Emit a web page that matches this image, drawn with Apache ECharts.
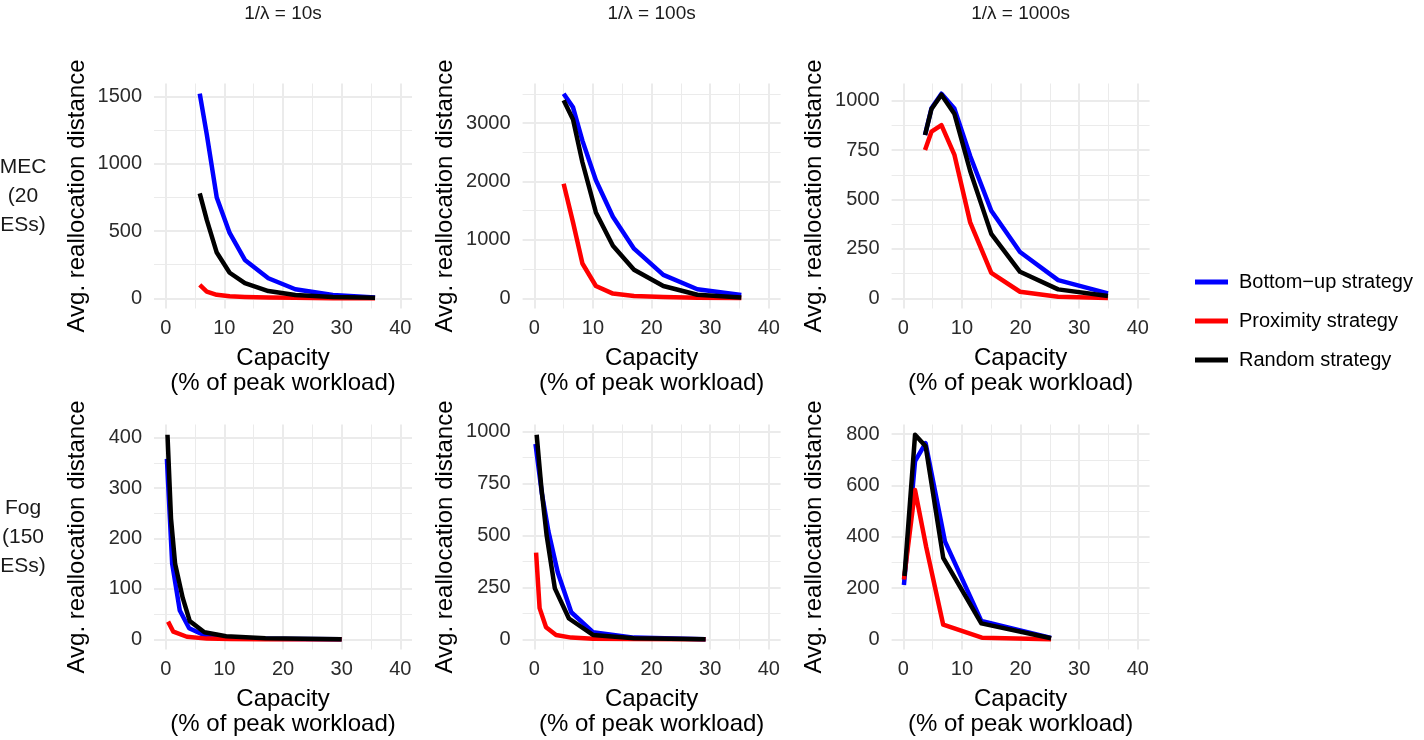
<!DOCTYPE html>
<html>
<head>
<meta charset="utf-8">
<title>Avg. reallocation distance</title>
<script src="https://cdn.jsdelivr.net/npm/echarts@6/dist/echarts.min.js"></script>
<style>
    html, body { margin: 0; padding: 0; background: #fff; }
    #main { width: 1424px; height: 740px; }
</style>
</head>
<body>
<div id="main"></div>
<script>
// strategies and colours
var strategies = ['Bottom\u2212up strategy', 'Proximity strategy', 'Random strategy'];
var colors = ['#0000FF', '#FF0000', '#000000'];

var colTitles = ['1/\u03bb = 10s', '1/\u03bb = 100s', '1/\u03bb = 1000s'];
var rowTitles = ['MEC\n(20\nESs)', 'Fog\n(150\nESs)'];

// x ticks (same for all panels)
var xTicks = [0, 10, 20, 30, 40];
var xMinorTicks = [5, 15, 25, 35];

// MEC (20 ESs), 1/λ = 10s
var mec10Cap = [5.8, 7.0, 8.7, 10.9, 13.5, 17.5, 22.1, 28.5, 35.7];
var mec10Bottom = [1522, 1220, 750, 486, 285, 149, 67, 25, 5];
var mec10Prox = [99, 50, 26, 15, 10, 6, 3, 1, 0];
var mec10Rand = [781, 583, 340, 190, 112, 54, 25, 10, 3];
var mec10YTicks = [0, 500, 1000, 1500];
var mec10YMinor = [250, 750, 1250];

// MEC (20 ESs), 1/λ = 100s
var mec100Cap = [5.0, 6.6, 8.2, 10.5, 13.4, 17.0, 22.0, 27.8, 35.3];
var mec100Bottom = [3503, 3270, 2700, 2020, 1395, 850, 400, 154, 57];
var mec100Prox = [1960, 1300, 595, 210, 80, 40, 20, 8, 3];
var mec100Rand = [3390, 3060, 2330, 1470, 900, 490, 210, 60, 15];
var mec100YTicks = [0, 1000, 2000, 3000];
var mec100YMinor = [500, 1500, 2500, 3500];

// MEC (20 ESs), 1/λ = 1000s
var mec1000Cap = [3.7, 4.8, 6.5, 8.7, 11.4, 15.0, 19.9, 26.4, 34.9];
var mec1000Bottom = [826, 962, 1035, 960, 720, 443, 234, 92, 25];
var mec1000Prox = [750, 843, 876, 727, 384, 128, 33, 8, 1];
var mec1000Rand = [826, 958, 1030, 934, 644, 326, 134, 45, 12];
var mec1000YTicks = [0, 250, 500, 750, 1000];
var mec1000YMinor = [125, 375, 625, 875];

// Fog (150 ESs), 1/λ = 10s
var fog10CapBottom = [0.2, 1.1, 2.4, 4.0, 6.6, 10.3, 17.0, 30.0];
var fog10Bottom = [358, 150, 57, 22, 8, 3, 1, 0];
var fog10CapProx = [0.4, 1.3, 3.6, 7.0, 11.0, 17.0, 30.0];
var fog10Prox = [35, 15, 5, 1.3, 0.5, 0.2, 0];
var fog10CapRand = [0.3, 0.9, 1.6, 2.9, 4.1, 6.6, 10.3, 17.0, 30.0];
var fog10Rand = [406, 240, 150, 82, 36, 14, 6, 2, 0];
var fog10YTicks = [0, 100, 200, 300, 400];
var fog10YMinor = [50, 150, 250, 350];

// Fog (150 ESs), 1/λ = 100s
var fog100CapBottom = [0.2, 1.3, 2.4, 4.0, 6.3, 10.0, 17.0, 29.2];
var fog100Bottom = [940, 700, 520, 322, 130, 34, 8, 0];
var fog100CapProx = [0.3, 0.9, 2.0, 3.7, 6.3, 10.0, 17.0, 29.2];
var fog100Prox = [417, 150, 58, 21, 8, 3, 1, 0];
var fog100CapRand = [0.4, 1.2, 2.1, 3.5, 5.9, 10.0, 17.0, 29.2];
var fog100Rand = [985, 730, 500, 245, 100, 21, 5, 0];
var fog100YTicks = [0, 250, 500, 750, 1000];
var fog100YMinor = [125, 375, 625, 875];

// Fog (150 ESs), 1/λ = 1000s
var fog1000CapBottom = [0.1, 2.0, 3.8, 7.1, 13.3, 25.2];
var fog1000Bottom = [212, 695, 765, 382, 72, 5];
var fog1000CapProx = [0.1, 2.0, 3.9, 6.8, 13.4, 25.2];
var fog1000Prox = [233, 582, 360, 57, 6, 0];
var fog1000CapRand = [0.2, 2.0, 3.8, 6.8, 13.3, 25.2];
var fog1000Rand = [247, 798, 753, 318, 62, 4];
var fog1000YTicks = [0, 200, 400, 600, 800];
var fog1000YMinor = [100, 300, 500, 700];

// panels in reading order (row by row)
var panels = [
    { caps: [mec10Cap, mec10Cap, mec10Cap], vals: [mec10Bottom, mec10Prox, mec10Rand], ticks: mec10YTicks, minor: mec10YMinor },
    { caps: [mec100Cap, mec100Cap, mec100Cap], vals: [mec100Bottom, mec100Prox, mec100Rand], ticks: mec100YTicks, minor: mec100YMinor },
    { caps: [mec1000Cap, mec1000Cap, mec1000Cap], vals: [mec1000Bottom, mec1000Prox, mec1000Rand], ticks: mec1000YTicks, minor: mec1000YMinor },
    { caps: [fog10CapBottom, fog10CapProx, fog10CapRand], vals: [fog10Bottom, fog10Prox, fog10Rand], ticks: fog10YTicks, minor: fog10YMinor },
    { caps: [fog100CapBottom, fog100CapProx, fog100CapRand], vals: [fog100Bottom, fog100Prox, fog100Rand], ticks: fog100YTicks, minor: fog100YMinor },
    { caps: [fog1000CapBottom, fog1000CapProx, fog1000CapRand], vals: [fog1000Bottom, fog1000Prox, fog1000Rand], ticks: fog1000YTicks, minor: fog1000YMinor }
];

// layout of the facet grid
var colLeft = [154, 522.6, 891.6];
var colWidth = 258;
var rowTop = [83.5, 424.5];
var rowHeight = 225;

var FONT = '"Liberation Sans", Arial, sans-serif';
var GRID_COLOR = '#EBEBEB';
var TICK_COLOR = '#2B2B2B';

// plain numbers, no thousands separator
var plainNum = function (v) { return String(v); };

var grids = [], xAxes = [], yAxes = [], series = [], graphics = [];

panels.forEach(function (p, i) {
    var row = Math.floor(i / 3), col = i % 3;
    grids.push({
        left: colLeft[col], top: rowTop[row], width: colWidth, height: rowHeight,
        outerBoundsMode: 'none'
    });

    // ggplot style 5% expansion around the data
    var yMax = 0;
    p.vals.forEach(function (v) { yMax = Math.max(yMax, Math.max.apply(null, v)); });
    var yLo = -0.05 * yMax, yHi = 1.05 * yMax;

    // major x axis (labels + major grid)
    xAxes.push({
        gridIndex: i, type: 'value', min: -2, max: 42,
        axisLine: { show: false },
        axisTick: { show: false, customValues: xTicks },
        axisLabel: { customValues: xTicks, formatter: plainNum, fontSize: 20, color: TICK_COLOR, fontFamily: FONT, margin: 10 },
        splitLine: { show: true, lineStyle: { color: GRID_COLOR, width: 2 } },
        name: 'Capacity\n(% of peak workload)', nameLocation: 'middle', nameGap: 37,
        nameTextStyle: { fontSize: 24, color: '#000', fontFamily: FONT, lineHeight: 25 }
    });
    // minor x grid
    xAxes.push({
        gridIndex: i, type: 'value', min: -2, max: 42, position: 'bottom',
        axisLine: { show: false },
        axisTick: { show: false, customValues: xMinorTicks },
        axisLabel: { show: false },
        splitLine: { show: true, lineStyle: { color: GRID_COLOR, width: 1 } }
    });

    yAxes.push({
        gridIndex: i, type: 'value', min: yLo, max: yHi,
        axisLine: { show: false },
        axisTick: { show: false, customValues: p.ticks },
        axisLabel: { customValues: p.ticks, formatter: plainNum, fontSize: 20, color: TICK_COLOR, fontFamily: FONT, margin: 12 },
        splitLine: { show: true, lineStyle: { color: GRID_COLOR, width: 2 } },
        name: 'Avg. reallocation distance', nameLocation: 'middle', nameGap: 65, nameRotate: 90,
        nameTextStyle: { fontSize: 24, color: '#000', fontFamily: FONT }
    });
    yAxes.push({
        gridIndex: i, type: 'value', min: yLo, max: yHi, position: 'left',
        axisLine: { show: false },
        axisTick: { show: false, customValues: p.minor },
        axisLabel: { show: false },
        splitLine: { show: true, lineStyle: { color: GRID_COLOR, width: 1 } }
    });

    strategies.forEach(function (name, s) {
        var pts = p.caps[s].map(function (c, k) { return [c, p.vals[s][k]]; });
        series.push({
            name: name, type: 'line',
            xAxisIndex: 2 * i, yAxisIndex: 2 * i,
            data: pts, showSymbol: false, silent: true,
            lineStyle: { color: colors[s], width: 4.5, join: 'round' },
            itemStyle: { color: colors[s] },
            emphasis: { disabled: true },
            z: 3 + s
        });
    });
});

// facet strip labels
colTitles.forEach(function (t, c) {
    graphics.push({
        type: 'text', x: colLeft[c] + colWidth / 2, y: 14,
        style: { text: t, fill: '#1A1A1A', fontSize: 19, fontFamily: FONT, align: 'center', verticalAlign: 'middle' }
    });
});
rowTitles.forEach(function (t, r) {
    graphics.push({
        type: 'text', x: 23, y: rowTop[r] + rowHeight / 2,
        style: { text: t, fill: '#1A1A1A', fontSize: 21, fontFamily: FONT, lineHeight: 29, align: 'center', verticalAlign: 'middle' }
    });
});

var chart = echarts.init(document.getElementById('main'));
chart.setOption({
    animation: false,
    backgroundColor: '#fff',
    grid: grids,
    xAxis: xAxes,
    yAxis: yAxes,
    series: series,
    graphic: graphics,
    legend: {
        orient: 'vertical', left: 1190, top: 267,
        icon: 'rect', itemWidth: 33, itemHeight: 5, itemGap: 19,
        data: strategies.map(function (n, s) { return { name: n, itemStyle: { color: colors[s] } }; }),
        textStyle: { fontSize: 20, color: '#000', fontFamily: FONT, padding: [0, 0, 0, 6] }
    }
});
</script>
</body>
</html>
